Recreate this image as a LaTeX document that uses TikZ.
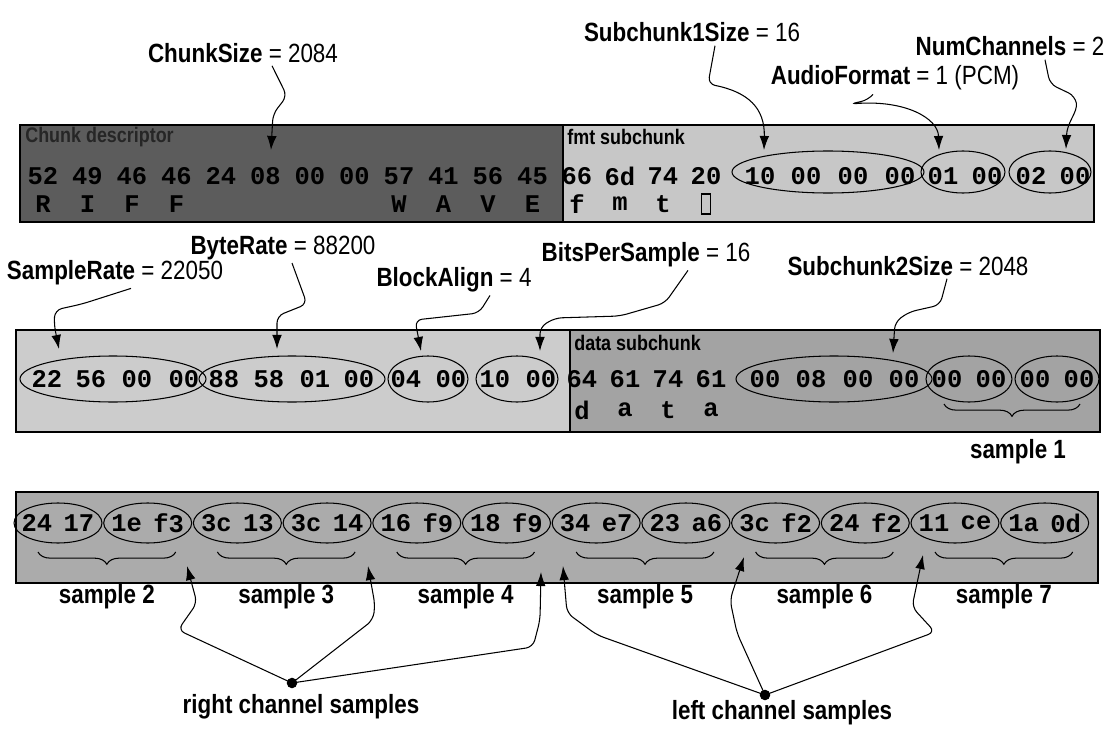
\documentclass[tikz,border=0pt]{standalone}
\usepackage{fontspec}
\setmainfont{Liberation Sans}
\newfontfamily\lblfont{Liberation Sans}[FakeStretch=0.85]
\newfontfamily\hexfont{Liberation Mono}
\usetikzlibrary{shapes.geometric,arrows.meta,decorations.pathreplacing,calc}

\newcommand{\fld}[2]{\textbf{#1} = #2}

\tikzset{
  field/.style={font=\lblfont\fontsize{15}{17}\selectfont, inner sep=1pt},
  smplbl/.style={font=\lblfont\bfseries\fontsize{15}{17}\selectfont, inner sep=1pt},
  boxlbl/.style={font=\lblfont\bfseries\fontsize{12}{14}\selectfont, anchor=west, inner sep=0pt},
  hexb/.style={font=\hexfont\bfseries\fontsize{14.5}{16}\selectfont, inner sep=0pt},
  grp/.style 2 args={ellipse, draw, semithick, minimum width=#1*0.02cm, minimum height=#2*0.02cm, inner sep=0pt},
  callout/.style={-{Latex[length=8pt,width=5.5pt]}, semithick, rounded corners=4pt},
  smpl/.style={decorate, decoration={brace, mirror, amplitude=7pt}, semithick},
  chdot/.style={circle, fill, inner sep=0pt, minimum size=6pt},
  chunkbox/.style={line width=1pt},
}

\begin{document}
\begin{tikzpicture}[x=0.02cm, y=-0.02cm]
  \useasboundingbox (0,0) rectangle (1107,730);

  % RIFF chunk descriptor + fmt subchunk
  \fill[black!64] (20,125) rectangle (563,222);
  \fill[black!22] (563,125) rectangle (1094,222);
  \draw[chunkbox] (20,125) rectangle (1094,222) (563,125) -- (563,222);
  \node[boxlbl, text=black!85] (riffl) at (25,137) {Chunk descriptor};
  \node[boxlbl] (fmtl) at (567,137) {fmt subchunk};
  \foreach \b [count=\i from 0] in {52,49,46,46,24,08,00,00,57,41,56,45}
    \node[hexb] (riff-\i) at (43+44.5*\i,176) {\b};
  \foreach \c/\i in {R/0,I/1,F/2,F/3,W/8,A/9,V/10,E/11}
    \node[hexb] (riffc-\i) at (43+44.5*\i,204) {\c};
  \foreach \b/\x [count=\i] in {66/577,6d/620,74/663,20/706,10/760,00/806,00/853,00/900,01/943,00/987,02/1031,00/1075}
    \node[hexb] (fmt-\i) at (\x,176) {\b};
  \foreach \c/\x [count=\i] in {f/577,m/620,t/663}
    \node[hexb] (fmtc-\i) at (\x,204) {\c};
  \node[draw, semithick, minimum width=9*0.02cm, minimum height=20*0.02cm, inner sep=0pt] (fmtc-4) at (706,204) {};
  \node[grp={192}{42}] (sub1g) at (828,172) {};
  \node[grp={84}{42}] (afmtg) at (963,172) {};
  \node[grp={82}{42}] (nchg) at (1050,172) {};

  % fmt subchunk (cont.) + data subchunk
  \fill[black!20] (16,330) rectangle (570,432);
  \fill[black!36] (570,330) rectangle (1100,432);
  \draw[chunkbox] (16,330) rectangle (1100,432) (570,330) -- (570,432);
  \node[boxlbl] (datal) at (574,343) {data subchunk};
  \foreach \b/\x [count=\i] in {22/47,56/91,00/137,00/184,88/224,58/269,01/315,00/359,04/406,00/451,10/495,00/541}
    \node[hexb] (fmtb-\i) at (\x,379) {\b};
  \foreach \b/\x [count=\i] in {64/582,61/625,74/668,61/711,00/765,08/811,00/858,00/904,00/947,00/991,00/1035,00/1079}
    \node[hexb] (data-\i) at (\x,379) {\b};
  \foreach \c/\x [count=\i] in {d/582,a/625,t/668,a/711}
    \node[hexb] (datac-\i) at (\x,410) {\c};
  \node[grp={186}{46}] (srg) at (113,379) {};
  \node[grp={186}{46}] (brg) at (292,379) {};
  \node[grp={80}{46}] (bag) at (428,379) {};
  \node[grp={82}{46}] (bpsg) at (517,379) {};
  \node[grp={196}{46}] (sub2g) at (834,379) {};
  \node[grp={86}{46}] (smp1a) at (969,379) {};
  \node[grp={84}{46}] (smp1b) at (1057,379) {};
  \draw[smpl] (944,404) -- (1080,404);
  \node[smplbl] (smp-1) at (1018,452) {sample 1};

  % data samples
  \fill[black!33] (16,492) rectangle (1098,583);
  \draw[chunkbox] (16,492) rectangle (1098,583);
  \foreach \a/\b [count=\i from 0] in {24/17,1e/f3,3c/13,3c/14,16/f9,18/f9,34/e7,23/a6,3c/f2,24/f2,11/ce,1a/0d} {
    \pgfmathsetmacro\cx{58+89.7*\i}
    \node[grp={88}{40}] (s-\i) at (\cx,523) {};
    \node[hexb] (sa-\i) at (\cx-21,523) {\a};
    \node[hexb] (sb-\i) at (\cx+21,523) {\b};
  }
  \foreach \j in {0,...,5} {
    \pgfmathsetmacro\xl{38+179.4*\j}
    \pgfmathsetmacro\xr{175.7+179.4*\j}
    \pgfmathtruncatemacro\k{\j+2}
    \draw[smpl] (\xl,552) -- (\xr,552);
    \node[smplbl] (smp-\k) at ({(\xl+\xr)/2},597) {sample \k};
  }

  % field labels
  \node[field] (chunksz) at (243,53) {\fld{ChunkSize}{2084}};
  \node[field] (sub1sz) at (692,32) {\fld{Subchunk1Size}{16}};
  \node[field] (nch) at (1010,46) {\fld{NumChannels}{2}};
  \node[field] (afmt) at (895,78) {\fld{AudioFormat}{1 (PCM)}};
  \node[field] (srate) at (115,273) {\fld{SampleRate}{22050}};
  \node[field] (brate) at (283,248) {\fld{ByteRate}{88200}};
  \node[field] (balign) at (454,280) {\fld{BlockAlign}{4}};
  \node[field] (bps) at (646,255) {\fld{BitsPerSample}{16}};
  \node[field] (sub2sz) at (908,266) {\fld{Subchunk2Size}{2048}};

  \coordinate (tipChunk) at (271,150);
  \coordinate (tipSub1) at (764,150);
  \coordinate (tipAfmt) at (939,150);
  \coordinate (tipNch) at (1066,149);
  \coordinate (tipSr) at (59,349);
  \coordinate (tipBr) at (277,349);
  \coordinate (tipBa) at (421,351);
  \coordinate (tipBps) at (540,351);
  \coordinate (tipS2) at (893,353);

  \draw[callout] ($(chunksz.south)+(29,1)$) -- (287,96) -- (273,114) -- (tipChunk);
  \draw[callout] ($(sub1sz.south)+(23,2)$) -- (708,84) .. controls (748,92) and (765,108) .. (tipSub1);
  \draw[callout] ($(afmt.south)+(-22,2)$) -- (868,100) -- (850,104) .. controls (905,100) and (938,118) .. (tipAfmt);
  \draw[callout] ($(nch.south)+(35,2)$) -- (1050,84) -- (1075,96) .. controls (1078,112) and (1067,122) .. (tipNch);
  \draw[callout] ($(srate.south)+(16,1)$) -- (82,304) -- (55,310) -- (54,324) -- (tipSr);
  \draw[callout] ($(brate.south)+(9,1)$) -- (307,304) -- (277,316) -- (tipBr);
  \draw[callout] ($(balign.south)+(36,1)$) -- (479,313) -- (415,320) -- (tipBa);
  \draw[callout] ($(bps.south)+(42,1)$) -- (665,303) -- (620,316) -- (555,318) -- (540,327) -- (tipBps);
  \draw[callout] ($(sub2sz.south)+(39,1)$) -- (940,305) -- (909,312) -- (895,322) -- (tipS2);

  % channel callouts
  \node[chdot] (rdot) at (292,683) {};
  \node[chdot] (ldot) at (765,695) {};
  \node[smplbl] (rlbl) at (301,707) {right channel samples};
  \node[smplbl] (llbl) at (782,713) {left channel samples};
  \coordinate (tipR2) at (187,566);
  \coordinate (tipR3) at (368,566);
  \coordinate (tipR4) at (541,572);
  \coordinate (tipL5) at (563,566);
  \coordinate (tipL6) at (744,557);
  \coordinate (tipL7) at (923,555);
  \draw[callout] (rdot.center) -- (178,630) -- (197,603) -- (tipR2);
  \draw[callout] (rdot.center) -- (373,620) -- (375,605) -- (tipR3);
  \draw[callout] (rdot.center) -- (533,647) -- (540,620) -- (tipR4);
  \draw[callout] (ldot.center) -- (597,635) -- (567,613) -- (tipL5);
  \draw[callout] (ldot.center) -- (737,633) -- (730,600) -- (tipL6);
  \draw[callout] (ldot.center) -- (935,632) -- (912,607) -- (tipL7);
\end{tikzpicture}
\end{document}
